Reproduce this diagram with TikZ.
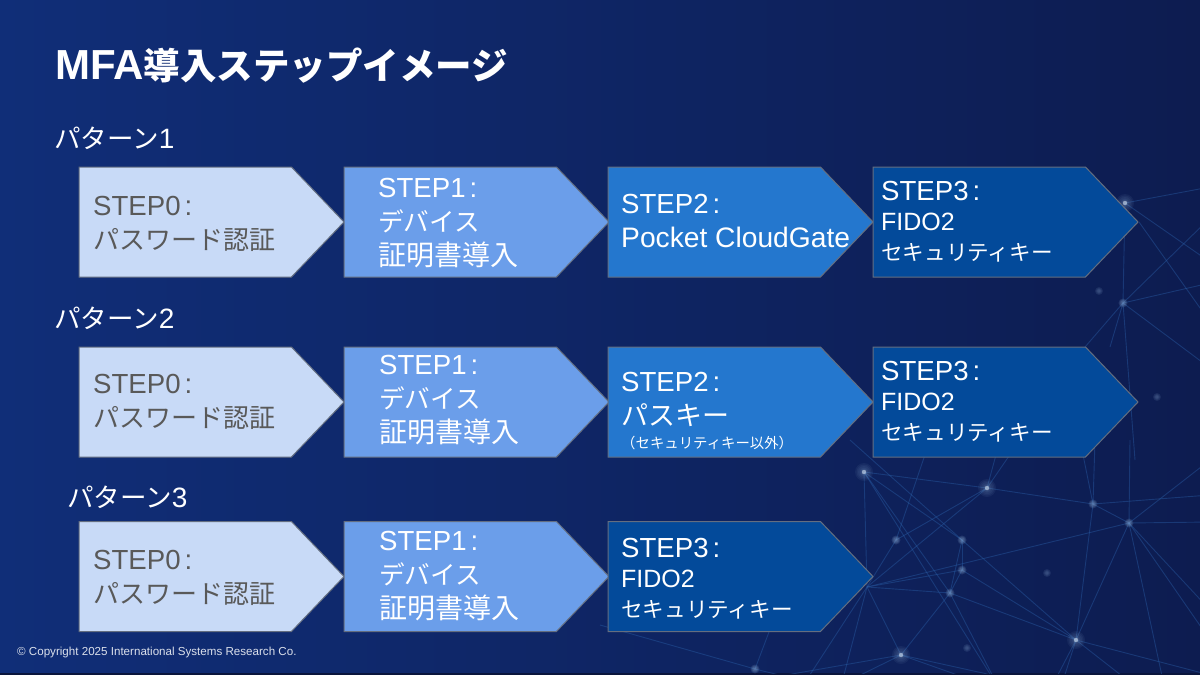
\documentclass[tikz,border=0pt]{standalone}
\usepackage{fontspec}
\usetikzlibrary{shapes.symbols}
\setmainfont{Liberation Sans}
\newfontfamily\jpfont{Noto Sans CJK JP}
\newcommand{\jp}[1]{{\jpfont #1}}
\newcommand{\fsz}[1]{\fontsize{#1}{#1}\selectfont}
\newcommand{\stepname}[1]{{\fsz{27.6}STEP#1\hspace{4pt}:}}
\definecolor{bgleft}{HTML}{102E78}
\definecolor{bgright}{HTML}{0D1C50}
\definecolor{stepzero}{HTML}{C8DAF7}
\definecolor{stepone}{HTML}{6B9EEA}
\definecolor{steptwo}{HTML}{2477CE}
\definecolor{stepthree}{HTML}{034A9A}
\definecolor{edgegray}{HTML}{646E80}
\definecolor{netline}{HTML}{2A5FA8}
\definecolor{netglow}{HTML}{8FB0D8}
\tikzset{
	stepbox/.style = {draw = edgegray, line width = 1pt, shape = signal, signal to = east, signal from = nowhere, signal pointer angle = 92.6, minimum width = 265pt, minimum height = 110pt, inner sep = 0pt, outer sep = 0pt, anchor = west},
	steptext/.style = {anchor = west, align = left, inner sep = 0pt, text = white, font = \fontsize{28.2}{34}\selectfont},
	patternlabel/.style = {anchor = west, inner sep = 0pt, text = white, font = \fontsize{28}{30}\selectfont},
	netedge/.style = {draw = netline, line width = 0.9pt, opacity = 0.42}
}
\begin{document}
\begin{tikzpicture}[x = 1pt, y = -1pt]
	\useasboundingbox (0, 0) rectangle (1200, 675);
	\shade [left color = bgleft, right color = bgright] (0, 0) rectangle (1200, 675);
	\fill [bgright!75!black] (0, 673) rectangle (1200, 675);

	% network behind the boxes
	\begin{scope}
		\clip (0, 0) rectangle (1200, 673);
		\foreach \n/\x/\y in {na/864/472, nb/987/488, nc/1093/504, nd/1129/523, ne/896/540, nf/962/540, ng/962/570, nh/950/593, ni/1076/640, nj/901/655, nk/755/669, nl/867/587, np/1125/203, nq/1123/303} {
			\coordinate (\n) at (\x, \y);
		}
		\foreach \n/\x/\y in {f1/1000/690, f2/1165/690, f3/1210/610, f4/1210/640, f5/1210/522, f6/1095/440, f7/1130/440, f8/1210/460, f9/1210/495, f10/1080/440, f11/1210/675, f12/1140/690, f13/1060/690, f14/1210/187, f15/1210/262, f16/1210/283, f17/1210/368, f18/1085/347, f19/1110/347, f20/1135/460, f21/1210/218, f22/1139/222, f23/1210/322, f24/600/625, f25/800/690, f26/930/440, f27/700/690, f28/830/690, f29/850/440, f30/800/550, f31/1000/440, f32/1020/440, f33/1050/690, f34/840/690} {
			\coordinate (\n) at (\x, \y);
		}
		\foreach \a/\b in {na/nb, na/nf, na/nh, na/f1, nl/nb, nl/ng, nl/nh, nl/nd, nl/nj, nl/f25, nj/nh, nj/f1, nj/f13, nj/f27, nj/f28, nh/ni, nh/ng, nh/nf, nh/f1, ng/ni, nf/ng, nf/ni, nf/f29, ne/nl, ne/f26, ne/nb, nb/nc, nb/f31, nb/f32, nc/nd, nc/f9, nc/ni, nc/f6, nc/f10, nd/ni, nd/f2, nd/f3, nd/f4, nd/f5, nd/f7, nd/f8, ni/f11, ni/f12, ni/f33, ni/f13, np/nq, np/f14, np/f15, nq/f16, nq/f17, nq/f18, nq/f19, nq/f20, nq/f21, f22/f23, nk/f30, nk/f34, nl/f34, f24/nk, na/nl} {
			\draw [netedge] (\a) -- (\b);
		}
		\foreach \n in {na, nb, ni, nj, np} {
			\foreach \r in {1.5, 2.5, 3.5, 4.5, 6, 7.5, 9} {
				\fill [netglow, opacity = 0.07] (\n) circle (\r pt);
			}
			\fill [white!55!netglow, opacity = 0.6] (\n) circle (2.2pt);
		}
		\foreach \n in {nc, nd, ne, nf, ng, nh, nk, nq} {
			\foreach \r in {1.5, 2.5, 3.5, 4.5} {
				\fill [netglow, opacity = 0.16] (\n) circle (\r pt);
			}
		}
		\foreach \x/\y in {1047/573, 967/648, 1099/291, 1157/397} {
			\foreach \r in {1, 2, 3, 4} {
				\fill [netglow, opacity = 0.1] (\x, \y) circle (\r pt);
			}
		}
	\end{scope}

	\node (title) [anchor = west, inner sep = 0pt, text = white, font = \fontsize{42}{44}\selectfont\bfseries] at (55, 66) {MFA{\jpfont\fontsize{36.5}{44}\selectfont 導入ステップイメージ}};
	\node (pattern1) [patternlabel] at (54, 138) {\jp{\fsz{26.5}パターン}1};
	\node (pattern2) [patternlabel] at (54, 318) {\jp{\fsz{26.5}パターン}2};
	\node (pattern3) [patternlabel] at (67, 497) {\jp{\fsz{26.5}パターン}3};

	\foreach \r/\y in {a/222, b/402, c/576.5} {
		\node (zero\r) [stepbox, fill = stepzero] at (79, \y) {};
		\node (one\r) [stepbox, fill = stepone] at (344, \y) {};
	}
	\node (twoa) [stepbox, fill = steptwo] at (608, 222) {};
	\node (twob) [stepbox, fill = steptwo] at (608, 402) {};
	\node (threea) [stepbox, fill = stepthree] at (873, 222) {};
	\node (threeb) [stepbox, fill = stepthree] at (873, 402) {};
	\node (threec) [stepbox, fill = stepthree] at (608, 576.5) {};

	\node (zeroatext) [steptext, text = black!65] at (93, 223.5) {\stepname{0}\\\jp{\fsz{26}パスワード認証}};
	\node (zerobtext) [steptext, text = black!65] at (93, 401.5) {\stepname{0}\\\jp{\fsz{26}パスワード認証}};
	\node (zeroctext) [steptext, text = black!65] at (93, 577.5) {\stepname{0}\\\jp{\fsz{26}パスワード認証}};

	\node (oneatext) [steptext] at (378, 223) {\stepname{1}\\\jp{\fsz{25.6}デバイス}\\\jp{\fsz{28}証明書導入}};
	\node (onebtext) [steptext] at (379, 400.5) {\stepname{1}\\\jp{\fsz{25.6}デバイス}\\\jp{\fsz{28}証明書導入}};
	\node (onectext) [steptext] at (379, 576.5) {\stepname{1}\\\jp{\fsz{25.6}デバイス}\\\jp{\fsz{28}証明書導入}};

	\node (twoatext) [steptext] at (621, 220.5) {\stepname{2}\\Pocket CloudGate};
	\node (twobtext) [steptext] at (621, 411.5) {\stepname{2}\\\jp{\fsz{27}パスキー}\\[-11pt]\jp{\fsz{14.4}（セキュリティキー以外）}};

	\node (threeatext) [steptext] at (881, 221.5) {\stepname{3}\\[-4pt]{\fsz{25}FIDO2}\\[-4pt]\jp{\fsz{21.6}セキュリティキー}};
	\node (threebtext) [steptext] at (881, 402) {\stepname{3}\\[-4pt]{\fsz{25}FIDO2}\\[-4pt]\jp{\fsz{21.6}セキュリティキー}};
	\node (threectext) [steptext] at (621, 579) {\stepname{3}\\[-4pt]{\fsz{25}FIDO2}\\[-4pt]\jp{\fsz{21.6}セキュリティキー}};

	\node (copyright) [anchor = west, inner sep = 0pt, text = white!85!bgleft, font = \fontsize{11.6}{13}\selectfont] at (17, 652.5) {© Copyright 2025 International Systems Research Co.};
\end{tikzpicture}
\end{document}
